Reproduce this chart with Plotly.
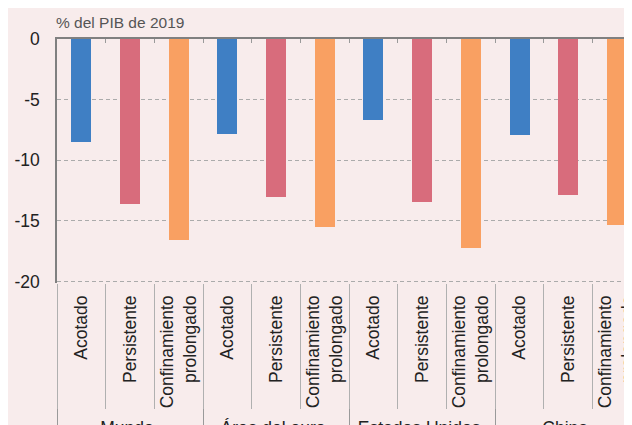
import plotly.graph_objects as go

regions = ["Mundo", "Área del euro", "Estados Unidos", "China"]
scenarios = ["Acotado", "Persistente", "Confinamiento<br>prolongado"]
acotado = [-8.5, -7.8, -6.7, -7.9]
persistente = [-13.6, -13.0, -13.4, -12.9]
confinamiento = [-16.6, -15.5, -17.2, -15.3]
colors = ["#3F7FC4", "#D86C7C", "#F9A062"]
y_ticks = [0, -5, -10, -15, -20]
title_text = "% del PIB de 2019"

series = [acotado, persistente, confinamiento]
x_outer, x_inner, y_vals, bar_colors = [], [], [], []
for r_i, reg in enumerate(regions):
    for s_i, sc in enumerate(scenarios):
        x_outer.append(reg)
        x_inner.append(sc)
        y_vals.append(series[s_i][r_i])
        bar_colors.append(colors[s_i])

n = len(y_vals)
idx = list(range(n))
boundaries = [i - 0.5 for i in range(n + 1)]
xr = [-0.5, 11.31]

FONT = "Liberation Sans, Arial, Helvetica, sans-serif"
BG = "#F8ECEC"

fig = go.Figure()
fig.add_trace(go.Bar(x=[x_outer, x_inner], y=y_vals, marker=dict(color=bar_colors, line=dict(width=0)),
                     width=0.41, showlegend=False, hoverinfo="skip"))
# invisible helpers for auxiliary axes
fig.add_trace(go.Scatter(x=idx, y=y_vals, xaxis="x2", mode="markers", marker=dict(opacity=0),
                         showlegend=False, hoverinfo="skip"))
fig.add_trace(go.Scatter(x=idx, y=y_vals, xaxis="x3", mode="markers", marker=dict(opacity=0),
                         showlegend=False, hoverinfo="skip"))

fig.update_layout(
    width=624, height=440,
    margin=dict(l=49.3, r=0, t=31.1, b=165.0),
    paper_bgcolor=BG, plot_bgcolor=BG,
    font=dict(family=FONT, size=17, color="#222222"),
    bargap=0,
    xaxis=dict(type="multicategory", range=xr, showgrid=False, zeroline=False, showline=False,
               ticks="", tickangle=-90, tickfont=dict(size=17.5, color="#222222"),
               showdividers=True, dividercolor="#9a9a9a", dividerwidth=1,
               ticklabelstandoff=8),
    xaxis2=dict(overlaying="x", side="top", anchor="y", range=xr, showgrid=False, zeroline=False,
                showline=True, linecolor="#808080", linewidth=1.5, ticks="inside", ticklen=4,
                tickcolor="#9a9a9a", tickvals=boundaries, showticklabels=False),
    xaxis3=dict(overlaying="x", side="bottom", anchor="y", range=xr, showgrid=False, zeroline=False,
                showline=False, ticks="outside", ticklen=125, tickcolor="#b0b0b0", tickwidth=1,
                tickvals=boundaries, showticklabels=False),
    yaxis=dict(range=[-20.12, 0], tickvals=y_ticks, ticktext=[str(v) for v in y_ticks],
               showgrid=True, gridcolor="#ababab", griddash="4px,3px", gridwidth=1,
               zeroline=False, showline=True, linecolor="#808080", linewidth=1.5,
               ticks="outside", ticklen=12, tickcolor="rgba(0,0,0,0)",
               tickfont=dict(size=17.5, color="#222222")),
    annotations=[dict(text=title_text, xref="paper", yref="paper", x=0, y=1, xanchor="left",
                      yanchor="bottom", xshift=-3, yshift=6, showarrow=False,
                      font=dict(size=15.5, color="#555555", family=FONT))],
)

fig.write_html("out.html")
